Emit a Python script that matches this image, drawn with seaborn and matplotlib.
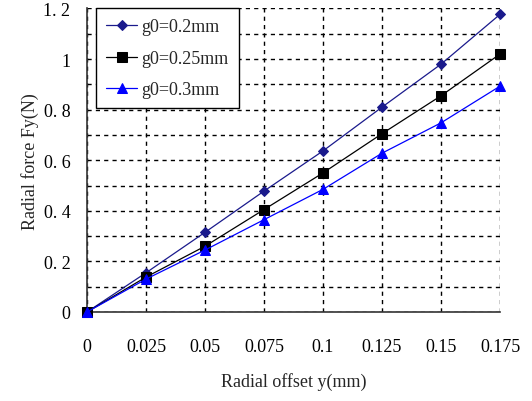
import matplotlib
matplotlib.use("Agg")
import matplotlib.pyplot as plt
import seaborn as sns
import pandas as pd
from matplotlib.ticker import MultipleLocator

offsets = [0, 0.025, 0.05, 0.075, 0.1, 0.125, 0.15, 0.175]
force_g020 = [0, 0.155, 0.315, 0.478, 0.637, 0.81, 0.98, 1.177]
force_g025 = [0, 0.138, 0.26, 0.405, 0.55, 0.705, 0.855, 1.02]
force_g030 = [0, 0.13, 0.245, 0.365, 0.485, 0.628, 0.748, 0.893]
labels = ["g0=0.2mm", "g0=0.25mm", "g0=0.3mm"]
x_ticklabels = ["0", "0.025", "0.05", "0.075", "0.1", "0.125", "0.15", "0.175"]
y_ticklabels = ["0", "0. 2", "0. 4", "0. 6", "0. 8", "1", "1. 2"]

rows = []
for lab, ser in zip(labels, [force_g020, force_g025, force_g030]):
    for xv, yv in zip(offsets, ser):
        rows.append({"offset": xv, "force": yv, "series": lab})
df = pd.DataFrame(rows)

sns.set_style("white")
plt.rcParams["font.family"] = ["Liberation Serif", "DejaVu Serif"]

fig = plt.figure(figsize=(5.32, 4.02), dpi=100)
ax = fig.add_axes([0.1635, 0.2214, 0.7765, 0.755])

palette = {"g0=0.2mm": "#1a1a8c", "g0=0.25mm": "#000000", "g0=0.3mm": "#0000ff"}
markers = {"g0=0.2mm": "D", "g0=0.25mm": "s", "g0=0.3mm": "^"}
sizes = {"g0=0.2mm": 5, "g0=0.25mm": 6.5, "g0=0.3mm": 7}

for lab in labels:
    sub = df[df["series"] == lab]
    sns.lineplot(data=sub, x="offset", y="force", ax=ax, color=palette[lab],
                 marker=markers[lab], markersize=sizes[lab], markeredgecolor=palette[lab],
                 linewidth=0.9, label=lab, zorder=3, clip_on=False)

ax.set_xlim(0, 0.175)
ax.set_ylim(0, 1.2)
ax.set_xticks(offsets)
ax.set_xticklabels(x_ticklabels)
ax.set_yticks([0, 0.2, 0.4, 0.6, 0.8, 1.0, 1.2])
ax.set_yticklabels(y_ticklabels)
ax.yaxis.set_minor_locator(MultipleLocator(0.1))
ax.grid(True, which="both", axis="y", color="black", linestyle=(0, (3, 3)), linewidth=1.0)
ax.grid(True, which="major", axis="x", color="black", linestyle=(0, (3, 3)), linewidth=1.0)
ax.set_axisbelow(True)
ax.tick_params(axis="both", which="both", length=0, labelsize=13, colors="black")
ax.tick_params(axis="x", pad=19)
ax.tick_params(axis="y", pad=12)

for s in ["top", "right"]:
    ax.spines[s].set_visible(False)
for s in ["left", "bottom"]:
    ax.spines[s].set_color("#333333")
    ax.spines[s].set_linewidth(1.2)

ax.set_xlabel("Radial offset y(mm)", fontsize=13, labelpad=12)
ax.set_ylabel("Radial force Fy(N)", fontsize=13, labelpad=3)

leg = ax.legend(loc="upper left", bbox_to_anchor=(0.023, 1.0), fontsize=13, frameon=True,
                fancybox=False, edgecolor="black", framealpha=1, borderaxespad=0.0,
                handlelength=1.7, labelspacing=0.8, handletextpad=0.25, borderpad=0.55)
leg.get_frame().set_linewidth(1.0)

fig.savefig("out.png", dpi=100)
